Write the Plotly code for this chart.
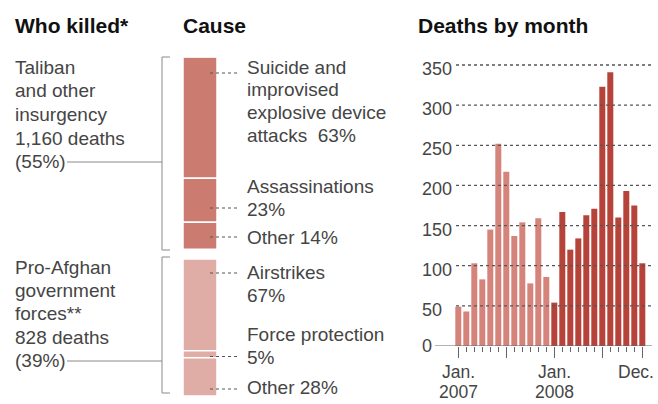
import plotly.graph_objects as go

W, H = 658, 404

# ---------------- data ----------------
deaths_2007 = [49, 43, 103, 83, 145, 252, 217, 137, 154, 78, 159, 86]
deaths_2008 = [54, 167, 120, 134, 163, 171, 323, 341, 160, 193, 175, 103]
month_tickvals = [0, 6, 12, 18, 23]
month_label_top = ["Jan.", "", "Jan.", "", "Dec."]
month_label_bottom = ["2007", "", "2008", "", ""]
y_ticks = [0, 50, 100, 150, 200, 250, 300, 350]

groups = ["Taliban", "Pro-Afghan"]
group_deaths = [1160, 828]
group_pcts = [55, 39]
taliban_causes = ["Suicide and improvised explosive device attacks", "Assassinations", "Other"]
taliban_shares = [63, 23, 14]
pro_causes = ["Airstrikes", "Force protection", "Other"]
pro_shares = [67, 5, 28]

# ---------------- helpers ----------------
def px(x):
    return x / W

def py(y):
    return 1 - y / H

FONT = "Liberation Sans, Arial, sans-serif"
TXT = "#454545"
C2007 = "#d5847c"
C2008 = "#b6433a"
CTAL = "#cc7b71"
CPRO = "#e0aca6"

fig = go.Figure()

# ---------------- monthly bars ----------------
x07 = list(range(len(deaths_2007)))
x08 = [len(deaths_2007) + i for i in range(len(deaths_2008))]
fig.add_trace(go.Bar(x=x07, y=deaths_2007, marker=dict(color=C2007, line=dict(width=0)),
                     xaxis="x", yaxis="y", width=0.75, hoverinfo="skip"))
fig.add_trace(go.Bar(x=x08, y=deaths_2008, marker=dict(color=C2008, line=dict(width=0)),
                     xaxis="x", yaxis="y", width=0.75, hoverinfo="skip"))

# ---------------- cause stacked bar ----------------
GAP = 60
seg_vals, seg_base, seg_cols = [], [], []
base = 0
for share in taliban_shares:
    v = group_deaths[0] * share / 100
    seg_vals.append(v); seg_base.append(base); seg_cols.append(CTAL)
    base += v
base += GAP
for share in pro_shares:
    v = group_deaths[1] * share / 100
    seg_vals.append(v); seg_base.append(base); seg_cols.append(CPRO)
    base += v
total_units = base

fig.add_trace(go.Bar(x=[0] * len(seg_vals), y=seg_vals, base=seg_base,
                     marker=dict(color=seg_cols, line=dict(color="white", width=1.5)),
                     xaxis="x2", yaxis="y2", width=1.0, hoverinfo="skip"))

# ---------------- layout ----------------
spacing = 8.0
x0_pix = 458.3
dom_l, dom_r = 421, 655
xr = [(dom_l - x0_pix) / spacing, (dom_r - x0_pix) / spacing]

fig.update_layout(
    width=W, height=H,
    margin=dict(l=0, r=0, t=0, b=0, pad=0),
    paper_bgcolor="white", plot_bgcolor="rgba(0,0,0,0)",
    showlegend=False, barmode="overlay",
    font=dict(family=FONT, size=19, color=TXT),
    xaxis=dict(domain=[px(dom_l), px(dom_r)], range=xr, anchor="y",
               tickmode="array", tickvals=month_tickvals, showticklabels=False,
               ticks="outside", ticklen=11, tickwidth=1, tickcolor="#666",
               minor=dict(tickmode="array", tickvals=x07 + x08, ticks="outside",
                          ticklen=5, tickwidth=1, tickcolor="#666", showgrid=False),
               showgrid=False, zeroline=False, showline=False, fixedrange=True),
    yaxis=dict(domain=[py(346), py(346 - 360 * 281 / 350)], range=[0, 360], anchor="x",
               tickmode="array", tickvals=y_ticks, showticklabels=False, ticks="",
               showgrid=False, zeroline=False, showline=False, fixedrange=True),
    xaxis2=dict(domain=[px(183), px(217)], range=[-0.5, 0.5], anchor="y2",
                visible=False, fixedrange=True),
    yaxis2=dict(domain=[py(396), py(57.3)], range=[total_units, 0], anchor="x2",
                visible=False, fixedrange=True),
)

shapes = []
# dotted gridlines (above bars)
for v in y_ticks[1:]:
    shapes.append(dict(type="line", xref="paper", yref="y", x0=px(456), x1=px(652), y0=v, y1=v,
                       line=dict(color="#555", width=1.3, dash="dot"), layer="above"))
# baseline
shapes.append(dict(type="line", xref="paper", yref="y", x0=px(435), x1=px(652), y0=0, y1=0,
                   line=dict(color="#666", width=1), layer="above"))

# brackets
def bracket(top, bottom, conn_y):
    shapes.append(dict(type="path", xref="paper", yref="paper",
                       path=f"M {px(170)},{py(top)} L {px(162)},{py(top)} L {px(162)},{py(bottom)} L {px(170)},{py(bottom)}",
                       line=dict(color="#8a8a8a", width=1)))
    shapes.append(dict(type="line", xref="paper", yref="paper", x0=px(67), x1=px(162),
                       y0=py(conn_y), y1=py(conn_y), line=dict(color="#8a8a8a", width=1)))

bracket(57, 250, 162)
bracket(257, 393, 361)

# leader dots
for ly in [73, 208, 237, 273, 356.5, 389]:
    shapes.append(dict(type="line", xref="paper", yref="paper", x0=px(210), x1=px(237),
                       y0=py(ly), y1=py(ly), line=dict(color="#555", width=1, dash="dot"),
                       layer="above"))
fig.update_layout(shapes=shapes)

# ---------------- text ----------------
ann = []
def text(x, y, s, size=19, bold=False, color=TXT):
    ann.append(dict(xref="paper", yref="paper", x=px(x), y=py(y), text=(f"<b>{s}</b>" if bold else s),
                    showarrow=False, xanchor="left", yanchor="middle", align="left",
                    font=dict(family=FONT, size=size, color=color)))

def lines(x, y0, step, parts, size=19):
    for i, s in enumerate(parts):
        text(x, y0 + i * step, s, size=size)

text(13, 25, "Who killed*", size=21, bold=True, color="#111")
text(181, 25, "Cause", size=21, bold=True, color="#111")
text(416, 25, "Deaths by month", size=21, bold=True, color="#111")

lines(13, 67.5, 23.5, ["Taliban", "and other", "insurgency",
                       f"{group_deaths[0]:,} deaths", f"({group_pcts[0]}%)"])
lines(13, 267.5, 23.2, ["Pro-Afghan", "government", "forces**",
                        f"{group_deaths[1]:,} deaths", f"({group_pcts[1]}%)"])

lines(245, 67.5, 22.5, ["Suicide and", "improvised", "explosive device",
                        f"attacks  {taliban_shares[0]}%"])
lines(245, 186, 23, [taliban_causes[1], f"{taliban_shares[1]}%"])
lines(245, 237, 23, [f"{taliban_causes[2]} {taliban_shares[2]}%"])
lines(245, 272, 23.5, [pro_causes[0], f"{pro_shares[0]}%"])
lines(245, 334.5, 22.5, [pro_causes[1], f"{pro_shares[1]}%"])
lines(245, 387, 23, [f"{pro_causes[2]} {pro_shares[2]}%"])

# y tick labels (left aligned, as in the original)
for v in y_ticks:
    ann.append(dict(xref="paper", yref="y", x=px(420), y=v, text=str(v), showarrow=False,
                    xanchor="left", yanchor="middle", yshift=(-4 if v > 0 else 0),
                    font=dict(family=FONT, size=18, color=TXT)))

# month tick labels (kept inside the picture; last one nudged left)
for tv, top, bot in zip(month_tickvals, month_label_top, month_label_bottom):
    shift = -6 if tv == month_tickvals[-1] else 0
    if top:
        ann.append(dict(xref="x", yref="paper", x=tv, y=py(372), text=top, showarrow=False,
                        xanchor="center", yanchor="middle", xshift=shift,
                        font=dict(family=FONT, size=17.5, color=TXT)))
    if bot:
        ann.append(dict(xref="x", yref="paper", x=tv, y=py(391.5), text=bot, showarrow=False,
                        xanchor="center", yanchor="middle", xshift=shift,
                        font=dict(family=FONT, size=17.5, color=TXT)))

fig.update_layout(annotations=ann)

fig.write_html("out.html")
